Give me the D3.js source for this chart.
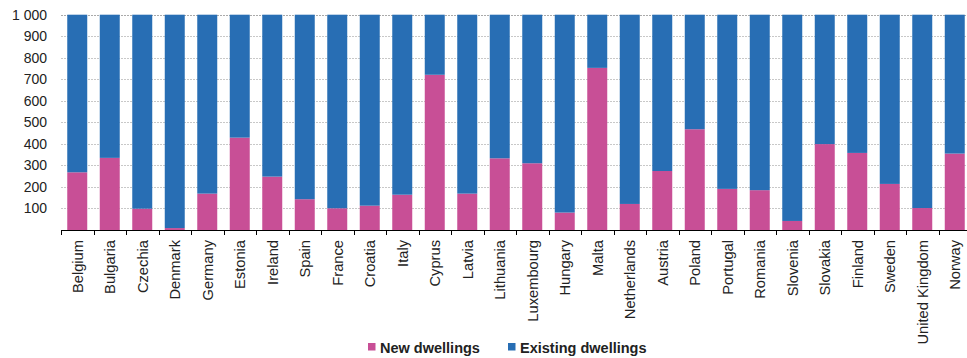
<!DOCTYPE html>
<style>
body { margin: 0; background: #fff; }
text { font-family: "Liberation Sans", Arial, sans-serif; fill: #222; }
.grid line { stroke: #c8c8c8; stroke-dasharray: 2,1; }
</style>
<script src="https://d3js.org/d3.v7.min.js"></script>
<body>
<script>

var countries = ["Belgium", "Bulgaria", "Czechia", "Denmark", "Germany", "Estonia", "Ireland",
  "Spain", "France", "Croatia", "Italy", "Cyprus", "Latvia", "Lithuania", "Luxembourg",
  "Hungary", "Malta", "Netherlands", "Austria", "Poland", "Portugal", "Romania", "Slovenia",
  "Slovakia", "Finland", "Sweden", "United Kingdom", "Norway"];

var newDwellings = [268, 335, 99, 9, 169, 429, 248, 143, 101, 113, 164, 721, 169, 333, 310,
  81, 753, 121, 274, 468, 191, 185, 42, 399, 358, 214, 102, 355];

var existingDwellings = newDwellings.map(function(d) { return 1000 - d; });

var yTicks = [100, 200, 300, 400, 500, 600, 700, 800, 900, 1000];
var seriesNames = ["New dwellings", "Existing dwellings"];
var colors = ["#c84f96", "#286eb4"];

var width = 967,
    height = 358;

var svg = d3.select("body").append("svg")
    .attr("width", width)
    .attr("height", height);

var x = d3.scaleBand()
    .domain(countries)
    .range([61, 971])
    .paddingInner(0.385)
    .paddingOuter(0.1925);

var y = d3.scaleLinear()
    .domain([0, 1000])
    .range([230, 14.7]);

// gridlines
svg.append("g")
    .attr("class", "grid")
  .selectAll("line")
  .data(yTicks)
  .enter().append("line")
    .attr("x1", 61)
    .attr("x2", width)
    .attr("y1", function(d) { return Math.round(y(d)) + 0.5; })
    .attr("y2", function(d) { return Math.round(y(d)) + 0.5; })
    .style("stroke-dasharray", function(d) { return d === 1000 ? null : "2,1"; })
    .style("stroke", function(d) { return d === 1000 ? "#aaa" : null; });

// y labels
svg.append("g")
  .selectAll("text")
  .data(yTicks)
  .enter().append("text")
    .attr("x", 47)
    .attr("y", function(d) { return y(d) + 5; })
    .attr("text-anchor", "end")
    .style("font-size", "14px")
    .text(function(d) { return d3.format(",")(d).replace(",", " "); });

var rows = countries.map(function(c, i) {
  return { country: c, "New dwellings": newDwellings[i], "Existing dwellings": existingDwellings[i] };
});

var stack = d3.stack().keys(seriesNames)(rows);

svg.append("g")
  .selectAll("g")
  .data(stack)
  .enter().append("g")
    .attr("fill", function(d, i) { return colors[i]; })
  .selectAll("rect")
  .data(function(d) { return d; })
  .enter().append("rect")
    .attr("x", function(d) { return x(d.data.country); })
    .attr("width", x.bandwidth())
    .attr("y", function(d) { return y(d[1]); })
    .attr("height", function(d) { return y(d[0]) - y(d[1]); });

// x axis
var axis = svg.append("g");
axis.append("line")
    .attr("x1", 61).attr("x2", width)
    .attr("y1", 230.5).attr("y2", 230.5)
    .attr("stroke", "#000");

axis.selectAll(".tick")
  .data(d3.range(countries.length + 1))
  .enter().append("line")
    .attr("x1", function(i) { return Math.round(61 + i * x.step()) + 0.5; })
    .attr("x2", function(i) { return Math.round(61 + i * x.step()) + 0.5; })
    .attr("y1", 230).attr("y2", 235)
    .attr("stroke", "#000");

axis.selectAll(".label")
  .data(countries)
  .enter().append("text")
    .attr("transform", function(d) {
      return "translate(" + (x(d) + x.bandwidth() / 2 + 5.5) + ",240) rotate(-90)";
    })
    .attr("text-anchor", "end")
    .style("font-size", "14.7px")
    .text(function(d) { return d; });

// legend
var legendX = [368, 508];
var legend = svg.append("g")
  .selectAll("g")
  .data(seriesNames)
  .enter().append("g")
    .attr("transform", function(d, i) { return "translate(" + legendX[i] + ",343)"; });

legend.append("rect")
    .attr("width", 7.5)
    .attr("height", 7.5)
    .attr("fill", function(d, i) { return colors[i]; });

legend.append("text")
    .attr("x", 12)
    .attr("y", 10)
    .style("font-size", "14.5px")
    .style("font-weight", "bold")
    .text(function(d) { return d; });

</script>
